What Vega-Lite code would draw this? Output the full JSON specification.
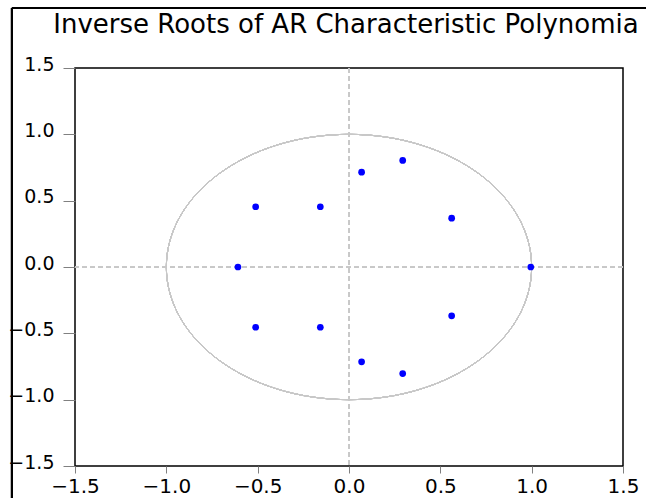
{
  "$schema": "https://vega.github.io/schema/vega-lite/v6.json",
  "width": 548,
  "height": 398,
  "autosize": {"type": "none"},
  "padding": {"left": 75, "top": 68, "right": 23, "bottom": 32},
  "background": "white",
  "config": {
    "font": "DejaVu Sans",
    "view": {"stroke": "black", "strokeWidth": 1.5},
    "axis": {"grid": false, "domain": false, "tickColor": "#808080", "labelColor": "black", "labelFont": "DejaVu Sans", "labelFlush": false, "labelOverlap": false, "labelBound": false}
  },
  "title": {
    "text": "Inverse Roots of AR Characteristic Polynomia",
    "fontSize": 26,
    "fontWeight": "normal",
    "font": "DejaVu Sans",
    "color": "black",
    "anchor": "middle",
    "frame": "group",
    "baseline": "alphabetic",
    "offset": 0,
    "dx": -3,
    "dy": 52
  },
  "data": {
    "values": [
      {"re": 0.995, "im": 0.0},
      {"re": 0.562, "im": 0.368},
      {"re": 0.562, "im": -0.368},
      {"re": 0.294, "im": 0.803},
      {"re": 0.294, "im": -0.803},
      {"re": 0.069, "im": 0.715},
      {"re": 0.069, "im": -0.715},
      {"re": -0.157, "im": 0.454},
      {"re": -0.157, "im": -0.454},
      {"re": -0.511, "im": 0.454},
      {"re": -0.511, "im": -0.454},
      {"re": -0.608, "im": 0.0}
    ]
  },
  "layer": [
    {
      "mark": {"type": "rule", "stroke": "#c8c8c8", "strokeWidth": 1, "strokeDash": [5, 3]},
      "encoding": {"x": {"datum": 0, "type": "quantitative"}}
    },
    {
      "mark": {"type": "rule", "stroke": "#c8c8c8", "strokeWidth": 1, "strokeDash": [5, 3]},
      "encoding": {"y": {"datum": 0, "type": "quantitative"}}
    },
    {
      "mark": {"type": "point", "shape": "M -1 0 A 1 0.7263 0 1 1 1 0 A 1 0.7263 0 1 1 -1 0 Z", "size": 133466, "filled": false, "stroke": "#c8c8c8", "strokeWidth": 1, "opacity": 1},
      "encoding": {"x": {"datum": 0, "type": "quantitative"}, "y": {"datum": 0, "type": "quantitative"}}
    },
    {
      "mark": {"type": "rule", "stroke": "black", "strokeWidth": 2, "clip": false},
      "encoding": {"x": {"datum": -1.845, "type": "quantitative"}, "y": {"datum": 1.952, "type": "quantitative"}, "y2": {"datum": -2.5}}
    },
    {
      "mark": {"type": "rule", "stroke": "black", "strokeWidth": 2, "clip": false},
      "encoding": {"y": {"datum": 1.952, "type": "quantitative"}, "x": {"datum": -1.845, "type": "quantitative"}, "x2": {"datum": 2.5}}
    },
    {
      "mark": {"type": "point", "filled": true, "color": "#0000ff", "size": 45, "opacity": 1, "strokeWidth": 0},
      "encoding": {
        "x": {
          "field": "re", "type": "quantitative",
          "scale": {"domain": [-1.5, 1.5], "nice": false, "zero": false},
          "axis": {"title": null, "values": [-1.5, -1, -0.5, 0, 0.5, 1, 1.5], "format": ".1f", "tickSize": 7, "labelFontSize": 20, "labelPadding": 3}
        },
        "y": {
          "field": "im", "type": "quantitative",
          "scale": {"domain": [-1.5, 1.5], "nice": false, "zero": false},
          "axis": {"title": null, "values": [-1.5, -1, -0.5, 0, 0.5, 1, 1.5], "format": ".1f", "tickSize": 12, "labelFontSize": 19, "labelPadding": 9, "labelOffset": -4}
        }
      }
    }
  ]
}
